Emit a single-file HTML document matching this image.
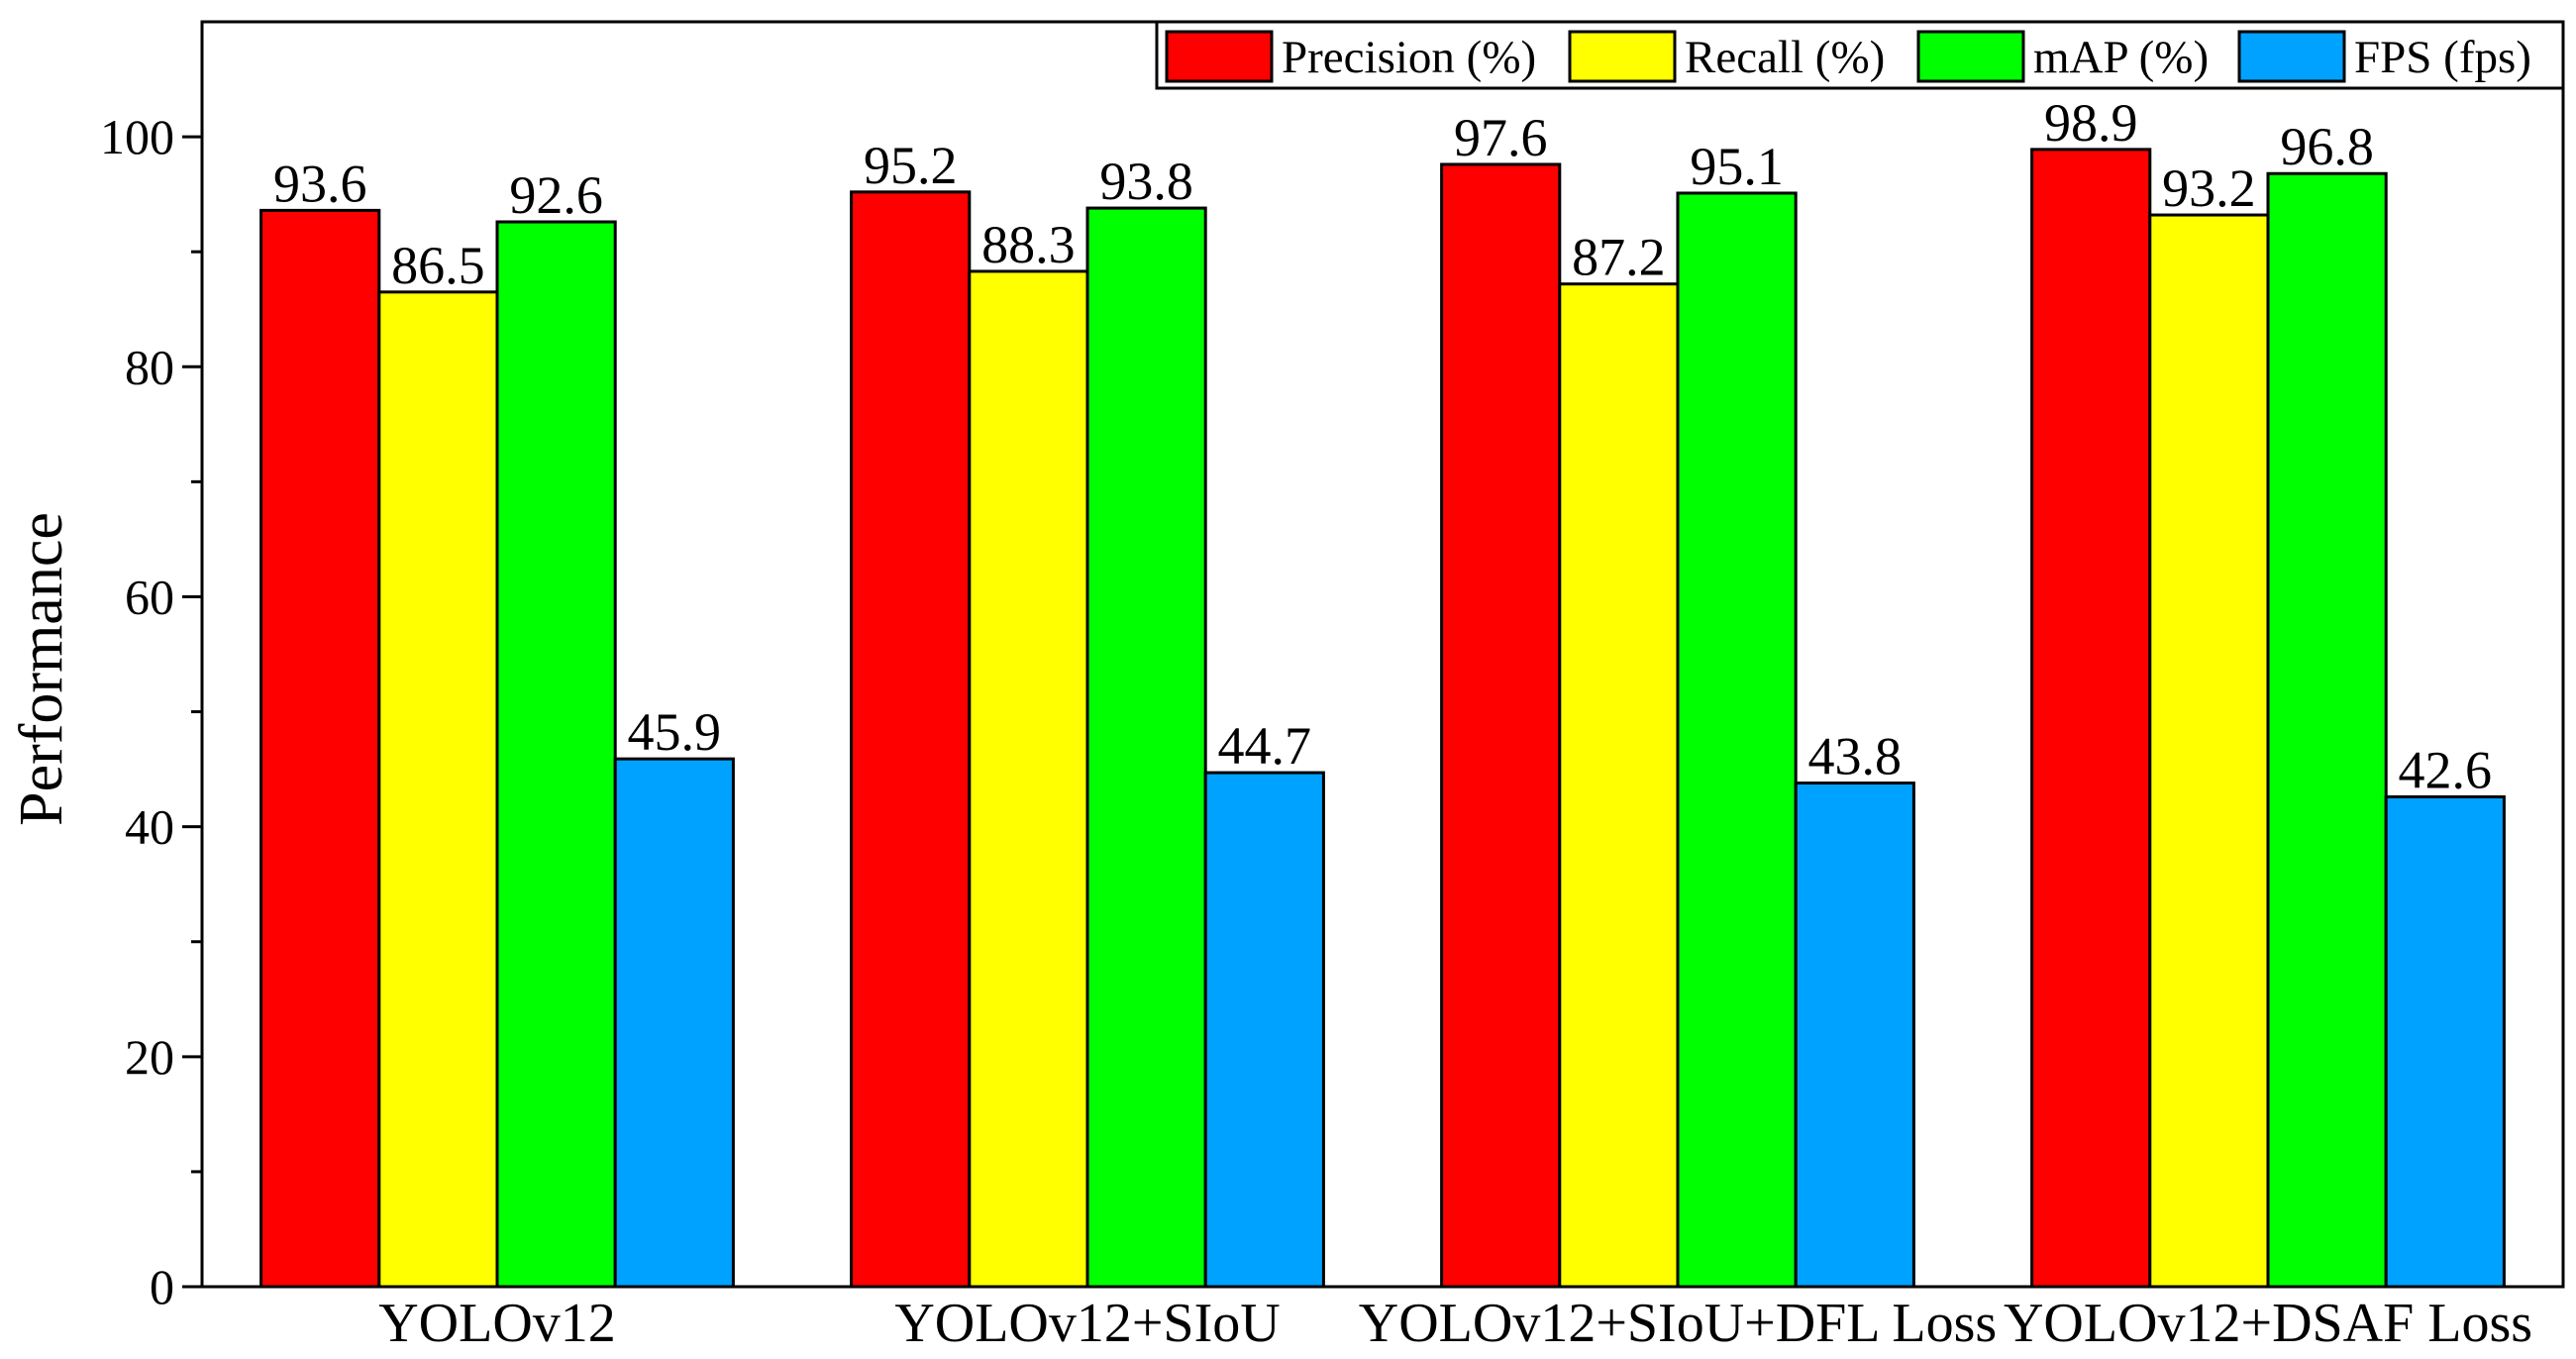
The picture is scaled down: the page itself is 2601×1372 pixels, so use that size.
<!DOCTYPE html>
<html><head><meta charset="utf-8"><style>
html,body{margin:0;padding:0;background:#fff;}
svg{display:block;font-family:"Liberation Serif",serif;}
</style></head><body>
<svg id="chart" width="2601" height="1372" viewBox="0 0 2601 1372" xmlns="http://www.w3.org/2000/svg"></svg>
<script>
const categories = ["YOLOv12","YOLOv12+SIoU","YOLOv12+SIoU+DFL Loss","YOLOv12+DSAF Loss"];
const seriesNames = ["Precision (%)","Recall (%)","mAP (%)","FPS (fps)"];
const precision = [93.6,95.2,97.6,98.9];
const recall = [86.5,88.3,87.2,93.2];
const mapVals = [92.6,93.8,95.1,96.8];
const fps = [45.9,44.7,43.8,42.6];
const yTicks = [0,20,40,60,80,100];
const yMinor = [10,30,50,70,90];
const colors = ["#ff0000","#ffff00","#00ff00","#00a2ff"];
const series = [precision, recall, mapVals, fps];

const svg = document.getElementById('chart');
const NS = "http://www.w3.org/2000/svg";
const L=204, R=2588, T=22, B=1299, yMax=110;
const y = v => B - v/yMax*(B-T);
const band = (R-L)/categories.length;
const xc = i => L + band*(i+0.5);
const bw = band*0.2;
function mk(tag, attrs, parent){
  const e=document.createElementNS(NS,tag);
  for(const k in attrs) e.setAttribute(k,attrs[k]);
  (parent||svg).appendChild(e); return e;
}
categories.forEach((c,i)=>{
  const g=mk('g',{});
  
  
  series.forEach((s,j)=>{
    const x0=xc(i)-2*bw+j*bw;
    const r=mk('rect',{x:x0,y:y(s[i]),width:bw,height:B-y(s[i]),fill:colors[j],stroke:'#000','stroke-width':3},g);
    
    
    const t=mk('text',{x:x0+bw/2,y:y(s[i])-9,'text-anchor':'middle','font-size':54,fill:'#000'},g);
    
    
    t.textContent=s[i].toFixed(1);
  });
  const xl=mk('text',{x:xc(i),y:1354,'text-anchor':'middle','font-size':56,fill:'#000'});
  
  
  xl.textContent=c;
});
const fr=mk('rect',{x:L,y:T,width:R-L,height:B-T,fill:'none',stroke:'#000','stroke-width':3});


yTicks.forEach(v=>{
  const tl=mk('line',{x1:L-20,x2:L,y1:y(v),y2:y(v),stroke:'#000','stroke-width':3});
  
  
  const t=mk('text',{x:L-28,y:y(v)+17,'text-anchor':'end','font-size':50,fill:'#000'});
  
  
  t.textContent=v;
});
yMinor.forEach(v=>{
  const tl=mk('line',{x1:L-11,x2:L,y1:y(v),y2:y(v),stroke:'#000','stroke-width':3});
  
  
});
const yt=mk('text',{x:0,y:0,transform:'translate(62,'+((T+B)/2+15)+') rotate(-90)','text-anchor':'middle','font-size':62,fill:'#000'});


yt.textContent='Performance';
const lg=mk('g',{});


mk('rect',{x:1168,y:T,width:R-1168,height:67,fill:'#fff',stroke:'#000','stroke-width':3},lg);
const swX=[1178,1585,1937,2261];
seriesNames.forEach((n,j)=>{
  const e=mk('g',{},lg);
  
  
  mk('rect',{x:swX[j],y:32,width:106,height:50,fill:colors[j],stroke:'#000','stroke-width':3},e);
  const t=mk('text',{x:swX[j]+116,y:73,'font-size':47,fill:'#000'},e);
  t.textContent=n;
});
</script>
</body></html>
